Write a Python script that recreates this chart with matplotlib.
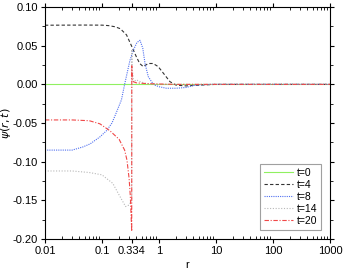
import matplotlib
matplotlib.use("Agg")
import matplotlib.pyplot as plt
import matplotlib.ticker as mticker

plt.rcParams['font.family'] = ['Liberation Sans', 'DejaVu Sans']
plt.rcParams['font.size'] = 8

# t = 0
r0 = [0.01, 1000]
psi0 = [0.0, 0.0]

# t = 4
r4 = [0.01, 0.05, 0.1, 0.13, 0.17, 0.21, 0.27, 0.334, 0.4, 0.46, 0.53, 0.65,
      0.79, 0.97, 1.27, 1.56, 2.0, 3.0, 5.0, 10, 1000]
psi4 = [0.0765, 0.0767, 0.0766, 0.0760, 0.0745, 0.072, 0.064, 0.049, 0.036,
        0.027, 0.023, 0.027, 0.027, 0.023, 0.012, 0.0035, -0.001, -0.002,
        -0.001, 0.0, 0.0]

# t = 8
r8 = [0.01, 0.03, 0.046, 0.062, 0.092, 0.12, 0.15, 0.18, 0.22, 0.25, 0.31,
      0.355, 0.41, 0.465, 0.52, 0.57, 0.65, 0.75, 0.85, 1.0, 1.35, 2.0, 3.0,
      4.3, 8, 1000]
psi8 = [-0.085, -0.085, -0.081, -0.077, -0.068, -0.060, -0.050, -0.036,
        -0.020, 0.000, 0.031, 0.044, 0.054, 0.057, 0.047, 0.027, 0.010, 0.003,
        -0.001, -0.003, -0.005, -0.005, -0.004, -0.001, 0.0, 0.0]

# t = 14
r14 = [0.01, 0.03, 0.06, 0.1, 0.155, 0.2, 0.26, 0.3, 0.333, 0.334, 0.34,
       0.36, 0.4, 0.45, 0.6, 1.0, 1000]
psi14 = [-0.112, -0.112, -0.114, -0.117, -0.128, -0.143, -0.158, -0.156,
         -0.150, 0.045, 0.020, 0.003, 0.006, 0.004, 0.001, 0.0, 0.0]

# t = 20
r20 = [0.01, 0.03, 0.06, 0.092, 0.138, 0.2, 0.25, 0.275, 0.3, 0.315, 0.325,
       0.333, 0.334, 0.34, 0.4, 0.6, 1.0, 2.0, 1000]
psi20 = [-0.046, -0.046, -0.047, -0.051, -0.060, -0.071, -0.085, -0.098,
         -0.122, -0.145, -0.170, -0.190, 0.024, 0.004, 0.002, 0.001, 0.0005,
         0.0, 0.0]

xticks = [0.01, 0.1, 0.334, 1, 10, 100, 1000]
xticklabels = ['0.01', '0.1', '0.334', '1', '10', '100', '1000']

fig = plt.figure(figsize=(3.51, 2.71), dpi=100)
ax = fig.add_axes([0.128, 0.118, 0.812, 0.856])

lw = 0.8
ax.plot(r0, psi0, color='#90f060', lw=lw, ls='-', label='t=0')
ax.plot(r4, psi4, color='#333333', lw=lw, ls=(0, (3, 2)), label='t=4')
ax.plot(r8, psi8, color='#5070f0', lw=lw, ls=(0, (1, 1)), label='t=8')
ax.plot(r14, psi14, color='#b8b8b8', lw=lw, ls=(0, (1, 1.5)), label='t=14')
ax.plot(r20, psi20, color='#f04848', lw=lw, ls=(0, (4, 1.5, 1, 1.5)),
        label='t=20')

ax.set_xscale('log')
ax.set_xlim(0.01, 1000)
ax.set_ylim(-0.20, 0.10)
ax.set_xticks(xticks)
ax.set_xticklabels(xticklabels)
ax.xaxis.set_minor_locator(mticker.LogLocator(base=10, subs=range(2, 10)))
ax.xaxis.set_minor_formatter(mticker.NullFormatter())
ax.yaxis.set_major_locator(mticker.MultipleLocator(0.05))
ax.yaxis.set_minor_locator(mticker.MultipleLocator(0.025))
ax.yaxis.set_major_formatter(mticker.FormatStrFormatter('%.2f'))

ax.tick_params(axis='x', which='major', direction='out', length=3, width=0.8,
               top=True, labelsize=8, pad=2)
ax.tick_params(axis='x', which='minor', direction='in', length=2, width=0.6,
               top=True)
ax.tick_params(axis='y', which='major', direction='out', length=3, width=0.8,
               right=True, labelsize=8, pad=2)
ax.tick_params(axis='y', which='minor', direction='out', length=2, width=0.6,
               right=True)
for sp in ax.spines.values():
    sp.set_linewidth(0.8)

ax.set_xlabel('r', fontsize=8)
ax.xaxis.set_label_coords(0.5, -0.09)
ax.set_ylabel(r'$\bar{\psi}(r,t)$', fontsize=8)
ax.yaxis.set_label_coords(-0.11, 0.5)

leg = ax.legend(loc='lower right', fontsize=7.5, frameon=True, fancybox=False,
                shadow=False, handlelength=2.8, handletextpad=0.3,
                labelspacing=0.2, borderpad=0.35, borderaxespad=0.9)
leg.get_frame().set_edgecolor('#888888')
leg.get_frame().set_linewidth(0.8)

fig.savefig('out.png', dpi=100)
